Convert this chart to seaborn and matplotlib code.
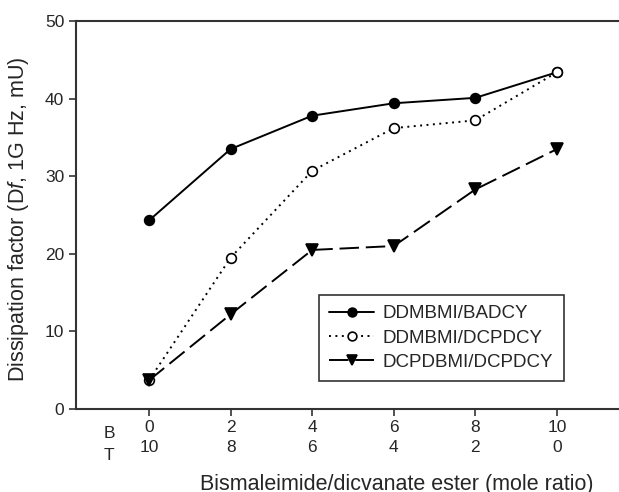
import numpy as np
import pandas as pd
import matplotlib
matplotlib.use("Agg")
import matplotlib.pyplot as plt
import seaborn as sns

# mole ratio of bismaleimide (B) and dicyanate ester (T)
ratio_b = [0, 2, 4, 6, 8, 10]
ratio_t = [10, 8, 6, 4, 2, 0]

# dissipation factor, mU
ddmbmi_badcy = [24.3, 33.5, 37.8, 39.4, 40.1, 43.4]
ddmbmi_dcpdcy = [3.7, 19.5, 30.7, 36.2, 37.2, 43.4]
dcpdbmi_dcpdcy = [3.7, 12.2, 20.5, 21.0, 28.3, 33.5]

series_names = ["DDMBMI/BADCY", "DDMBMI/DCPDCY", "DCPDBMI/DCPDCY"]

sns.set_style("ticks")
plt.rcParams["font.family"] = ["Liberation Sans", "DejaVu Sans"]
plt.rcParams["mathtext.fontset"] = "custom"
plt.rcParams["mathtext.it"] = "Liberation Sans:italic"
plt.rcParams["mathtext.rm"] = "Liberation Sans"

df = pd.DataFrame({
    "ratio": ratio_b * 3,
    "df": ddmbmi_badcy + ddmbmi_dcpdcy + dcpdbmi_dcpdcy,
    "series": np.repeat(series_names, len(ratio_b)),
})

fig = plt.figure(figsize=(6.19, 4.92), dpi=100)
ax = fig.add_axes([0.1228, 0.1687, 0.8772, 0.7886])

styles = {
    "DDMBMI/BADCY": dict(marker="o", ms=7, mfc="black", dashes=None),
    "DDMBMI/DCPDCY": dict(marker="o", ms=7, mfc="white", dashes=(1, 2.3)),
    "DCPDBMI/DCPDCY": dict(marker="v", ms=8, mfc="black", dashes=(10, 3.5)),
}

for name in series_names:
    st = styles[name]
    sub = df[df["series"] == name]
    sns.lineplot(data=sub, x="ratio", y="df", ax=ax, color="black", lw=1.4,
                 marker=st["marker"], markersize=st["ms"], markerfacecolor=st["mfc"],
                 markeredgecolor="black", markeredgewidth=1.2, label=name)
    if st["dashes"] is not None:
        ax.lines[-1].set_dashes(st["dashes"])

ax.set_xlim(-1.79, 11.52)
ax.set_ylim(0, 50)
ax.set_yticks([0, 10, 20, 30, 40, 50])
ax.set_xticks(ratio_b)
ax.set_xticklabels([f"{b}\n{t}" for b, t in zip(ratio_b, ratio_t)],
                   linespacing=1.37)
ax.tick_params(axis="both", labelsize=12.5, length=5, width=1.2, color="#333333")
ax.tick_params(axis="x", pad=3)
ax.text(-0.98, -0.062, "B", transform=ax.get_xaxis_transform(),
        ha="center", va="center", fontsize=12.5)
ax.text(-0.98, -0.119, "T", transform=ax.get_xaxis_transform(),
        ha="center", va="center", fontsize=12.5)

ax.set_xlabel("Bismaleimide/dicvanate ester (mole ratio)", fontsize=15.5)
ax.xaxis.set_label_coords(0.59, -0.167)
ax.set_ylabel("Dissipation factor (D$\\it{f}$, 1G Hz, mU)", fontsize=15.5)
ax.yaxis.set_label_coords(-0.083, 0.49)

for side in ["left", "bottom", "top"]:
    ax.spines[side].set_linewidth(1.5)
    ax.spines[side].set_color("#333333")
ax.spines["right"].set_visible(False)

leg = ax.legend(loc="upper left", bbox_to_anchor=(0.4475, 0.294), fontsize=13.5,
                frameon=True, fancybox=False, edgecolor="black",
                handlelength=2.4, handletextpad=0.45, borderpad=0.55,
                labelspacing=0.38, borderaxespad=0, markerscale=0.9)
leg.get_frame().set_linewidth(1.2)

fig.savefig("out.png", dpi=100)
